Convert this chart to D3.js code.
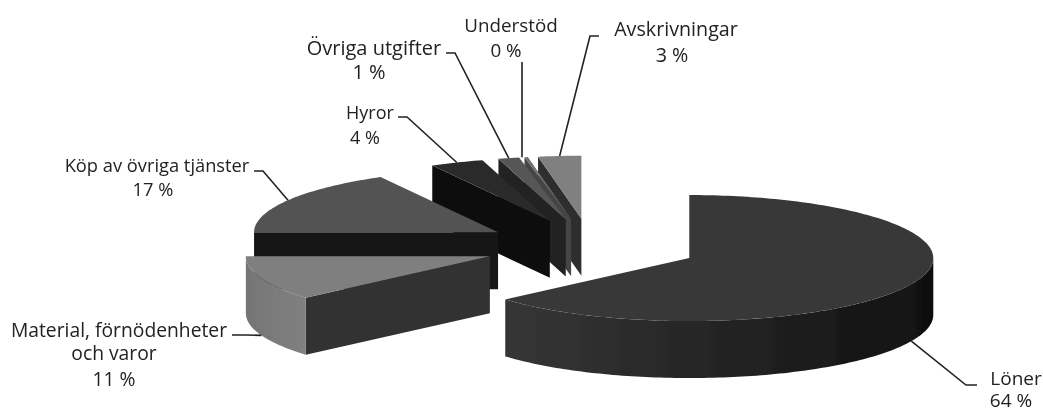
<!DOCTYPE html>
<html><head><meta charset="utf-8">
<script src="https://cdn.jsdelivr.net/npm/d3@7"></script>
<style>html,body{margin:0;padding:0;background:#fff}svg{display:block}</style>
</head><body><svg id="c" width="1043" height="412"></svg>
<script>
const categories = ["Löner","Material, förnödenheter och varor","Köp av övriga tjänster","Hyror","Övriga utgifter","Understöd","Avskrivningar"];
const values = [63.6, 11.4, 17, 3.55, 1.39, 0.22, 2.84];
const percentLabels = ["64 %","11 %","17 %","4 %","1 %","0 %","3 %"];
const labelLines = [["Löner"],["Material, förnödenheter","och varor"],["Köp av övriga tjänster"],["Hyror"],["Övriga utgifter"],["Understöd"],["Avskrivningar"]];
const topColors = ["#393939","#7f7f7f","#525252","#2c2c2c","#565656","#6e6e6e","#808080"];
const wallColors = ["#1c1c1c","#303030","#191919","#0e0e0e","#222222","#444444","#2d2d2d"];
const rimStops = [["#363636","#2a2a2a","#1e1e1e","#101010"],["#757575","#7b7b7b","#808080"],null,null,null,null,null];

const cx=591, cy=246.5, rx=244, ry=63, depth=57, explode=0.4426;
const svg=d3.select("#c");
const xS=d3.scaleLinear().domain([-1,1]).range([cx-rx,cx+rx]);
const yS=d3.scaleLinear().domain([-1,1]).range([cy-ry,cy+ry]);
const pie=d3.pie().sort(null).startAngle(0).endAngle(2*Math.PI);
const arcs=pie(values).map((d,i)=>{
  const mid=(d.startAngle+d.endAngle)/2;
  return {i,a0:d.startAngle,a1:d.endAngle,mid,ox:explode*Math.sin(mid),oy:-explode*Math.cos(mid)};
});
const pt=(s,a,r=1,dz=0)=>[xS(s.ox+r*Math.sin(a)),yS(s.oy-r*Math.cos(a))+dz];
const line=d3.line();
function sample(a0,a1){const n=Math.max(2,Math.ceil((a1-a0)/0.02));return d3.range(n+1).map(k=>a0+(a1-a0)*k/n);}

const defs=svg.append("defs");
defs.append("filter").attr("id","soft").attr("x","-2%").attr("y","-2%").attr("width","104%").attr("height","104%")
  .append("feGaussianBlur").attr("stdDeviation",0.45);
arcs.forEach(s=>{
  const c=rimStops[s.i]; if(!c) return;
  const lo=Math.max(s.a0,Math.PI/2), hi=Math.min(s.a1,3*Math.PI/2);
  const g=defs.append("linearGradient").attr("id","rim"+s.i).attr("gradientUnits","userSpaceOnUse")
    .attr("x1",pt(s,hi)[0]).attr("x2",d3.max(sample(lo,hi),a=>pt(s,a)[0])).attr("y1",0).attr("y2",0);
  c.forEach((col,k)=>g.append("stop").attr("offset",k/(c.length-1)).attr("stop-color",col));
});

const root=svg.append("g").attr("filter","url(#soft)");
const order=[6,5,4,3,2,1,0];
const gp=root.append("g");
order.forEach(i=>{
  const s=arcs[i], g=gp.append("g");
  const apex=pt(s,0,0), apexB=pt(s,0,0,depth);
  if(-Math.cos(s.a0-Math.PI/2)>1e-6){
    const e=pt(s,s.a0),eB=pt(s,s.a0,1,depth);
    g.append("path").attr("d",line([apex,e,eB,apexB])+"Z").attr("fill",wallColors[i]);
  }
  if(-Math.cos(s.a1+Math.PI/2)>1e-6){
    const e=pt(s,s.a1),eB=pt(s,s.a1,1,depth);
    g.append("path").attr("d",line([apex,e,eB,apexB])+"Z").attr("fill",wallColors[i]);
  }
  const lo=Math.max(s.a0,Math.PI/2), hi=Math.min(s.a1,3*Math.PI/2);
  if(hi>lo){
    const as=sample(lo,hi);
    const up=as.map(a=>pt(s,a)), dn=as.slice().reverse().map(a=>pt(s,a,1,depth));
    g.append("path").attr("d",line(up.concat(dn))+"Z")
      .attr("fill",rimStops[i]?`url(#rim${i})`:wallColors[i]);
  }
  const rim=sample(s.a0,s.a1).map(a=>pt(s,a));
  g.append("path").attr("d",line([apex].concat(rim))+"Z").attr("fill",topColors[i]);
});

// Label placement, in the order of categories: [x of each text line], [baseline of each text line]
const labelX=[[1016,1011],[119,114,114],[157,153],[370,365],[374,369],[511,506],[676,672]];
const labelY=[[385,407],[337,360,386],[172,196],[119,144],[55,79],[32,57],[36,62]];
const fontSize=[19,19.3,18.3,18,20,18.8,19.7];
const elbows=[[[977,385],[966,385]],[[232,335],[245,335]],[[254,171],[263,171]],[[398,117],[407,117]],[[446,53],[455,53]],[[522,62],[522,62]],[[599,36],[590,36]]];

const leaders=root.append("g");
arcs.forEach(s=>{
  const dz=(Math.cos(s.mid)<0)?depth:0;
  const tgt=pt(s,s.mid,1,dz);
  const [a,b]=elbows[s.i];
  if(a[0]===b[0]) tgt[0]=a[0];
  leaders.append("path").attr("d",line([a,b,tgt])).attr("fill","none").attr("stroke","#222").attr("stroke-width",1.6);
});
const labels=root.append("g").attr("font-family","'Open Sans',sans-serif").attr("fill","#222").attr("text-anchor","middle");
categories.forEach((c,i)=>{
  const lines=labelLines[i].concat([percentLabels[i]]);
  const t=labels.append("text").attr("font-size",fontSize[i]);
  lines.forEach((l,k)=>t.append("tspan").attr("x",labelX[i][k]).attr("y",labelY[i][k]).text(l));
});
</script></body></html>
